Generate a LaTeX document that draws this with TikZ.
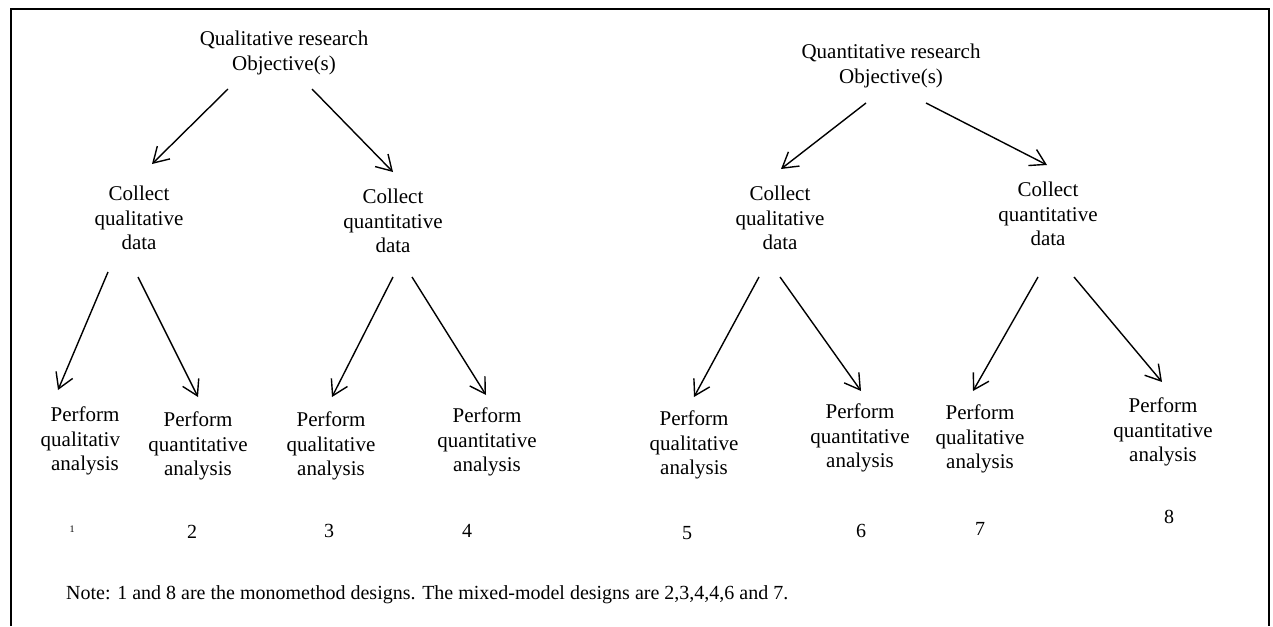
\documentclass[tikz,border=0pt]{standalone}
\usepackage{fontspec}
\setmainfont{Liberation Serif}
\usetikzlibrary{arrows.meta,calc}
\tikzset{
  txt/.style={align=center,inner sep=0pt,font=\fontsize{21}{24.5}\selectfont},
  num/.style={inner sep=0pt,font=\fontsize{20}{24}\selectfont},
  arr/.style={line width=1.4pt,-{Straight Barb[length=15pt,width=18pt,line width=1.4pt]}},
  frame/.style={line width=2pt}
}
\begin{document}
\begin{tikzpicture}[x=1pt,y=-1pt]
\useasboundingbox (0,0) rectangle (1273,626);
% frame (left, top, right)
\coordinate (fbl) at (11,626);
\coordinate (ftl) at (11,9);
\coordinate (ftr) at (1269,9);
\coordinate (fbr) at (1269,626);
\draw[frame] (fbl) -- (ftl) -- (ftr) -- (fbr);

% top nodes
\node[txt] (Q1) at (284,53) {Qualitative research\\Objective(s)};
\node[txt] (Q2) at (891,66) {Quantitative research\\Objective(s)};

% collect nodes
\node[txt] (C1) at (139,218) {Collect\\qualitative\\data};
\node[txt] (C2) at (393,221) {Collect\\quantitative\\data};
\node[txt] (C3) at (780,218) {Collect\\qualitative\\data};
\node[txt] (C4) at (1048,214) {Collect\\quantitative\\data};

% perform nodes
\begin{scope}
\clip (0,380) rectangle (119,500);
\node[txt] (P1) at (85,441) {Perform\\qualitative\\analysis};
\end{scope}
\node[txt] (P2) at (198,446) {Perform\\quantitative\\analysis};
\node[txt] (P3) at (331,446) {Perform\\qualitative\\analysis};
\node[txt] (P4) at (487,442) {Perform\\quantitative\\analysis};
\node[txt] (P5) at (694,445) {Perform\\qualitative\\analysis};
\node[txt] (P6) at (860,438) {Perform\\quantitative\\analysis};
\node[txt] (P7) at (980,439) {Perform\\qualitative\\analysis};
\node[txt] (P8) at (1163,432) {Perform\\quantitative\\analysis};

% numbers
\node[inner sep=0pt,font=\fontsize{10}{12}\selectfont] (n1) at (72,529) {1};
\node[num] (n2) at (192,532) {2};
\node[num] (n3) at (329,531) {3};
\node[num] (n4) at (467,531) {4};
\node[num] (n5) at (687,533) {5};
\node[num] (n6) at (861,531) {6};
\node[num] (n7) at (980,529) {7};
\node[num] (n8) at (1169,517) {8};

% note
\node[num,anchor=west] (note) at (66,595) {Note: 1 and 8 are the monomethod designs. The mixed-model designs are 2,3,4,4,6 and 7.};

% arrows
\draw[arr] ($(Q1)+(-56,36)$) -- ($(C1)+(13,-54)$);
\draw[arr] ($(Q1)+(28,36)$) -- ($(C2)+(0,-49)$);
\draw[arr] ($(Q2)+(-25,37)$) -- ($(C3)+(1,-49)$);
\draw[arr] ($(Q2)+(35,37)$) -- ($(C4)+(-1,-49)$);
\draw[arr] ($(C1)+(-31,54)$) -- ($(P1)+(-27,-51)$);
\draw[arr] ($(C1)+(-1,59)$) -- ($(P2)+(0,-49)$);
\draw[arr] ($(C2)+(0,56)$) -- ($(P3)+(1,-49)$);
\draw[arr] ($(C2)+(19,56)$) -- ($(P4)+(-1,-47)$);
\draw[arr] ($(C3)+(-21,59)$) -- ($(P5)+(0,-48)$);
\draw[arr] ($(C3)+(0,59)$) -- ($(P6)+(1,-47)$);
\draw[arr] ($(C4)+(-10,63)$) -- ($(P7)+(-7,-48)$);
\draw[arr] ($(C4)+(26,63)$) -- ($(P8)+(-1,-50)$);
\end{tikzpicture}
\end{document}
